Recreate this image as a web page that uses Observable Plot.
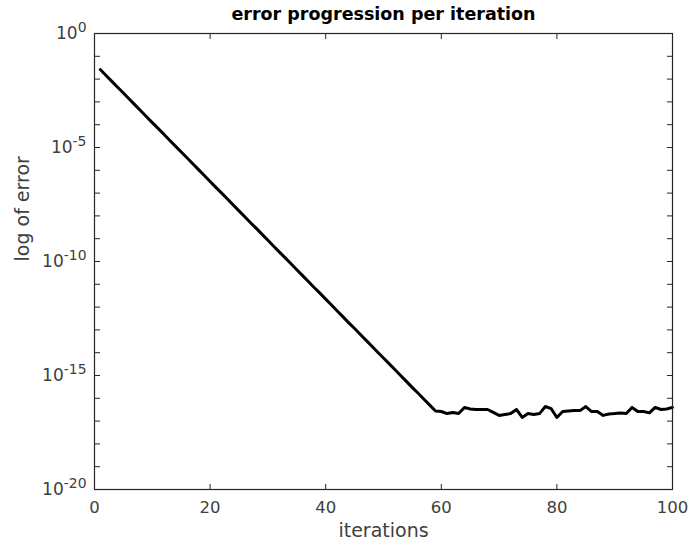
<!DOCTYPE html>
<html>
<head>
<meta charset="utf-8">
<script src="https://cdn.jsdelivr.net/npm/d3@7"></script>
<script src="https://cdn.jsdelivr.net/npm/@observablehq/plot@0.6"></script>
<style>
  body { margin: 0; background: #fff; }
  #chart svg { font-family: "DejaVu Sans", sans-serif; }
</style>
</head>
<body>
<div id="chart"></div>
<script>
// log10 of the error at iterations 1..100
const logError = [
  -1.58, -1.84, -2.10, -2.36, -2.61, -2.87, -3.13, -3.39, -3.65, -3.91,
  -4.16, -4.42, -4.68, -4.94, -5.20, -5.45, -5.71, -5.97, -6.23, -6.49,
  -6.75, -7.00, -7.26, -7.52, -7.78, -8.04, -8.30, -8.55, -8.81, -9.07,
  -9.33, -9.59, -9.84, -10.10, -10.36, -10.62, -10.88, -11.14, -11.39, -11.65,
  -11.91, -12.17, -12.43, -12.69, -12.94, -13.20, -13.46, -13.72, -13.98, -14.23,
  -14.49, -14.75, -15.01, -15.27, -15.53, -15.78, -16.04, -16.30, -16.56, -16.58,
  -16.67, -16.62, -16.67, -16.40, -16.47, -16.49, -16.49, -16.49, -16.62, -16.75,
  -16.71, -16.67, -16.49, -16.84, -16.67, -16.71, -16.67, -16.36, -16.45, -16.84,
  -16.58, -16.56, -16.54, -16.54, -16.36, -16.58, -16.58, -16.75, -16.69, -16.67,
  -16.64, -16.67, -16.40, -16.58, -16.58, -16.64, -16.40, -16.49, -16.47, -16.40
];
const iterations = logError.map((_, i) => i + 1);

const xTicks = [0, 20, 40, 60, 80, 100];
const yMajorTicks = [1e0, 1e-5, 1e-10, 1e-15, 1e-20];
const yTickLabels = ["10^0", "10^-5", "10^-10", "10^-15", "10^-20"];
const yMinorTicks = [1e0,1e-1,1e-2,1e-3,1e-4,1e-5,1e-6,1e-7,1e-8,1e-9,1e-10,
  1e-11,1e-12,1e-13,1e-14,1e-15,1e-16,1e-17,1e-18,1e-19,1e-20];

const titleText = "error progression per iteration";
const xLabel = "iterations";
const yLabel = "log of error";

const data = iterations.map((it, i) => ({it, err: Math.pow(10, logError[i])}));

const W = 690, H = 543, ML = 94, MR = 18, MT = 33, MB = 54;
const plotW = W - ML - MR, plotH = H - MT - MB;
const axisColor = "#262626";
const textColor = "#404040";

const chart = Plot.plot({
  width: W,
  height: H,
  marginLeft: ML,
  marginRight: MR,
  marginTop: MT,
  marginBottom: MB,
  style: {fontFamily: "DejaVu Sans, sans-serif", background: "#fff"},
  x: {domain: [0, 100], label: null},
  y: {type: "log", domain: [1e-20, 1], label: null},
  marks: [
    Plot.line(data, {x: "it", y: "err", stroke: "black", strokeWidth: 3, strokeLinejoin: "round"}),
    Plot.frame({stroke: axisColor, strokeWidth: 1.2}),
    // inward ticks on all four sides (drawn by the opposite-side axis, shifted across the frame)
    Plot.axisY(yMinorTicks, {anchor: "right", dx: -plotW, tickSize: 5, tickFormat: () => "", stroke: axisColor, label: null}),
    Plot.axisY(yMinorTicks, {anchor: "left", dx: plotW, tickSize: 5, tickFormat: () => "", stroke: axisColor, label: null}),
    Plot.axisX(xTicks, {anchor: "top", dy: plotH, tickSize: 6, tickFormat: () => "", stroke: axisColor, label: null}),
    Plot.axisX(xTicks, {anchor: "bottom", dy: -plotH, tickSize: 6, tickFormat: () => "", stroke: axisColor, label: null}),
    // tick labels
    Plot.axisY(yMajorTicks, {anchor: "left", tickSize: 0, tickPadding: 8, fontSize: 17, fill: textColor,
      tickFormat: (d) => yTickLabels[yMajorTicks.indexOf(d)], label: null}),
    Plot.axisX(xTicks, {anchor: "bottom", tickSize: 0, tickPadding: 12, fontSize: 16.5, fill: textColor, label: null}),
    Plot.text([yLabel], {frameAnchor: "left", rotate: -90, dx: -72, fontSize: 19, fill: textColor}),
    Plot.text([xLabel], {frameAnchor: "bottom", lineAnchor: "middle", dy: 41, fontSize: 19, fill: textColor}),
    Plot.text([titleText], {frameAnchor: "top", lineAnchor: "middle", dy: -19, fontSize: 17.5, fontWeight: "bold", fill: "black"})
  ]
});

// turn "10^-5" into 10 with a superscript
d3.select(chart).selectAll('g[aria-label="y-axis tick label"] text').each(function() {
  const t = this.textContent;
  const k = t.indexOf("^");
  if (k < 0) return;
  const base = t.slice(0, k), exp = t.slice(k + 1);
  const el = d3.select(this);
  el.text(null);
  el.append("tspan").text(base);
  el.append("tspan").attr("dy", "-0.5em").attr("font-size", "0.82em").text(exp);
});

document.getElementById("chart").appendChild(chart);
</script>
</body>
</html>
